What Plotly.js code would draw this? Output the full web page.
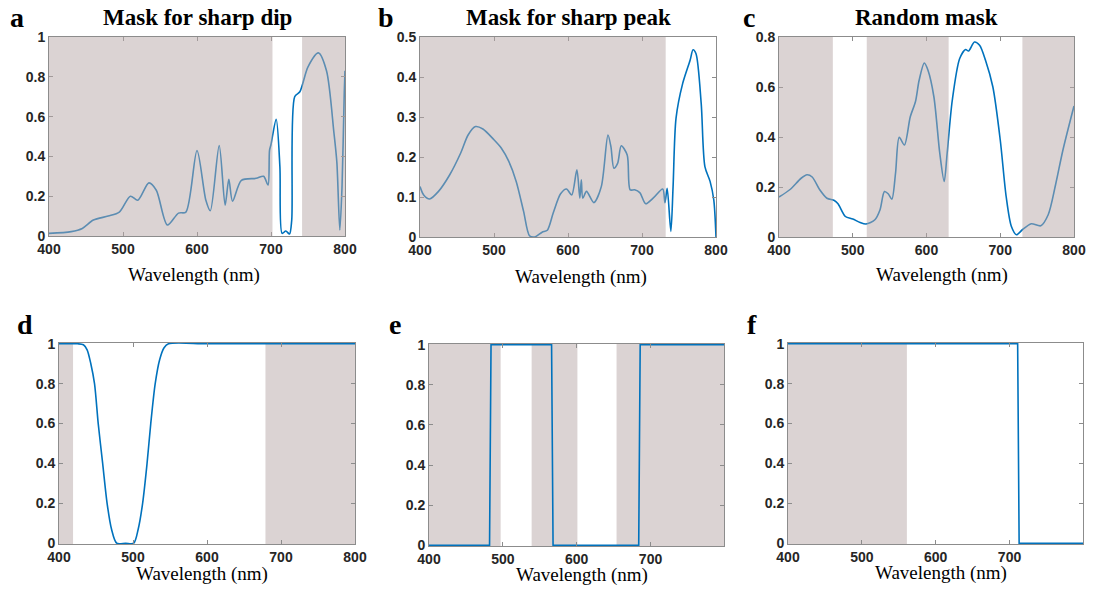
<!DOCTYPE html>
<html>
<head>
<meta charset="utf-8">
<script src="https://cdn.plot.ly/plotly-3.0.1.min.js"></script>
<style>html,body{margin:0;padding:0;background:#fff;}#plot{width:1093px;height:595px;}</style>
</head>
<body>
<div id="plot"></div>
<script>
// ---------- data ----------
var panelLetters = ["a", "b", "c", "d", "e", "f"];
var panelTitles = ["Mask for sharp dip", "Mask for sharp peak", "Random mask", "", "", ""];
var xTitle = "Wavelength (nm)";

// panel a: spectrum with mask for a sharp dip
var waveA = [400,430,445,460,480,495,510,520,535,545,560,575,585,600,612,618,630,638,643,648,660,680,690,696,698,700,707,712,715,720,725,728,732,739,750,764,775,785,789,793,796,799,800];
var specA = [0.013,0.022,0.038,0.08,0.10,0.12,0.20,0.18,0.267,0.23,0.055,0.115,0.12,0.43,0.18,0.127,0.455,0.155,0.285,0.175,0.28,0.29,0.30,0.256,0.43,0.46,0.586,0.35,0.013,0.025,0.01,0.08,0.70,0.725,0.85,0.92,0.83,0.52,0.37,0.03,0.25,0.72,0.83];
var shadeA = [[400,702],[742,800]];

// panel b: spectrum with mask for a sharp peak
var waveB = [400,405,413,425,440,455,465,475,485,500,510,520,530,540,548,555,565,572,580,590,598,605,612,616,618,620,625,635,645,654,658,662,667,672,680,684,690,697,705,715,728,731,734,739,742,746,755,765,769,773,780,785,792,797,800];
var specB = [0.126,0.105,0.095,0.114,0.155,0.21,0.255,0.276,0.27,0.243,0.222,0.189,0.139,0.064,0.003,0.0,0.012,0.017,0.06,0.108,0.12,0.105,0.168,0.097,0.143,0.097,0.114,0.086,0.126,0.255,0.226,0.172,0.184,0.228,0.205,0.118,0.118,0.111,0.083,0.097,0.12,0.086,0.122,0.014,0.126,0.297,0.384,0.442,0.468,0.458,0.334,0.176,0.139,0.093,0.0];
var shadeB = [[400,732]];

// panel c: spectrum with random mask
var waveC = [400,415,430,438,445,455,465,475,480,490,500,510,518,530,537,543,548,553,558,563,570,578,585,590,597,602,610,618,624,628,635,645,653,657,665,672,680,690,700,708,715,722,730,742,755,765,775,785,800];
var specC = [0.16,0.19,0.235,0.249,0.24,0.19,0.155,0.146,0.133,0.082,0.072,0.058,0.052,0.069,0.109,0.182,0.173,0.151,0.255,0.399,0.368,0.481,0.541,0.627,0.696,0.667,0.561,0.335,0.222,0.335,0.548,0.714,0.75,0.744,0.78,0.767,0.707,0.60,0.388,0.162,0.043,0.009,0.029,0.053,0.045,0.089,0.209,0.348,0.524];
var shadeC = [[400,473],[519,630],[730,800]];

// panel d: smooth dip mask
var waveD = [400,425,433,438,443,448,453,459,465,471,478,490,501,507,513,519,524,530,536,542,548,600,700,800];
var maskD = [1,1,0.995,0.97,0.9,0.8,0.6,0.4,0.2,0.07,0,0,0,0.07,0.2,0.4,0.6,0.8,0.92,0.98,1,1,1,1];
var shadeD = [[400,419],[679,800]];

// panel e: binary peak mask
var waveE = [400,482,484,566,568,684,686,800];
var maskE = [0,0,1,1,0,0,1,1];
var shadeE = [[400,497],[539,601],[654,800]];

// panel f: random binary mask
var waveF = [400,711,713,800];
var maskF = [1,1,0,0];
var shadeF = [[400,561]];

// ---------- layout helpers ----------
var W = 1093, H = 595;
var SERIF = "'Times New Roman', 'Liberation Serif', 'DejaVu Serif', serif";
var boxes = [
  {x0:49, x1:345, y0:37, y1:236},
  {x0:420, x1:716, y0:37, y1:237},
  {x0:779, x1:1074, y0:37, y1:237},
  {x0:59, x1:355, y0:343, y1:544},
  {x0:429, x1:724, y0:344, y1:546},
  {x0:788, x1:1083, y0:343, y1:544}
];
var yRanges = [[0,1],[0,0.5],[0,0.8],[-0.004,1.004],[-0.004,1.004],[-0.004,1.004]];
var yDticks = [0.2,0.1,0.2,0.2,0.2,0.2];
var xRanges = [[400,800],[400,800],[400,800],[400,800],[400,799.5],[400,799.5]];
var xs = [waveA, waveB, waveC, waveD, waveE, waveF];
var ys = [specA, specB, specC, maskD, maskE, maskF];
var shades = [shadeA, shadeB, shadeC, shadeD, shadeE, shadeF];
var smooth = [true, true, true, true, false, false];
var shadeAbove = [true, true, true, false, false, false];
var letterPos = [[17,17],[386,17],[749,17],[25,325],[395,325],[752,324]];
var xTitlePos = [[194,275],[581,277],[942,275],[202,574],[582,575],[941,573]];

var traces = [], shapes = [], annotations = [];
var layout = {
  width: W, height: H,
  margin: {l:0, r:0, t:0, b:0},
  paper_bgcolor: "#ffffff", plot_bgcolor: "#ffffff",
  showlegend: false,
  font: {family: "Liberation Sans, Arial, sans-serif", color: "#262626"}
};

for (var i = 0; i < 6; i++) {
  var n = i === 0 ? "" : String(i + 1);
  var b = boxes[i];
  var axStyle = {
    showline: true, mirror: "ticks", linecolor: "#8c8c8c", linewidth: 1,
    ticks: "inside", ticklen: 4, tickcolor: "#8c8c8c", tickwidth: 1,
    showgrid: false, zeroline: false, fixedrange: true,
    tickfont: {family: "Liberation Sans, Arial, sans-serif", size: 14, weight: "bold", color: "#262626"}
  };
  var xa = Object.assign({}, axStyle, {
    domain: [b.x0 / W, b.x1 / W],
    anchor: "y" + n,
    range: xRanges[i],
    tickmode: "linear", tick0: 400, dtick: 100
  });
  var ya = Object.assign({}, axStyle, {
    domain: [1 - b.y1 / H, 1 - b.y0 / H],
    anchor: "x" + n,
    range: yRanges[i],
    tickmode: "linear", tick0: 0, dtick: yDticks[i]
  });
  layout["xaxis" + n] = xa;
  layout["yaxis" + n] = ya;

  traces.push({
    type: "scatter", mode: "lines",
    x: xs[i], y: ys[i],
    xaxis: "x" + n, yaxis: "y" + n,
    line: {color: "#0072BD", width: 1.6, shape: smooth[i] ? "spline" : "linear", smoothing: 0.8},
    hoverinfo: "skip"
  });

  shades[i].forEach(function (s) {
    shapes.push({
      type: "rect", xref: "x" + n, yref: "y" + n + " domain",
      x0: s[0], x1: s[1], y0: 0, y1: 1,
      fillcolor: shadeAbove[i] ? "rgba(183,167,167,0.5)" : "#dbd3d3",
      line: {width: 0},
      layer: shadeAbove[i] ? "above" : "below"
    });
  });

  annotations.push({
    xref: "paper", yref: "paper",
    x: letterPos[i][0] / W, y: 1 - letterPos[i][1] / H,
    xanchor: "center", yanchor: "middle", showarrow: false,
    text: "<b>" + panelLetters[i] + "</b>",
    font: {family: SERIF, size: 28, color: "#000"}
  });
  if (panelTitles[i]) {
    annotations.push({
      xref: "paper", yref: "paper",
      x: ((b.x0 + b.x1) / 2) / W, y: 1 - 17 / H,
      xanchor: "center", yanchor: "middle", showarrow: false,
      text: "<b>" + panelTitles[i] + "</b>",
      font: {family: SERIF, size: 23, color: "#000"}
    });
  }
  // x-axis title
  annotations.push({
    xref: "paper", yref: "paper",
    x: xTitlePos[i][0] / W, y: 1 - xTitlePos[i][1] / H,
    xanchor: "center", yanchor: "middle", showarrow: false,
    text: xTitle,
    font: {family: SERIF, size: 19, weight: "normal", color: "#000"}
  });
}
layout.shapes = shapes;
layout.annotations = annotations;

Plotly.newPlot("plot", traces, layout, {displayModeBar: false, staticPlot: true});
</script>
</body>
</html>
